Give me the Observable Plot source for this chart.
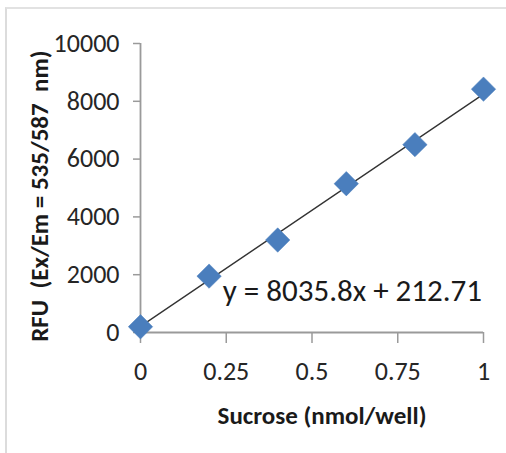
<!DOCTYPE html>
<html>
<head>
<meta charset="utf-8">
<script src="https://cdn.jsdelivr.net/npm/d3@7"></script>
<script src="https://cdn.jsdelivr.net/npm/@observablehq/plot@0.6"></script>
<style>
  html, body { margin: 0; padding: 0; background: #fff; }
  #wrap { position: relative; width: 506px; height: 453px; overflow: hidden; }
  #frame { position: absolute; left: 5px; top: 7px; width: 499px; height: 460px;
           border-left: 2px solid #dcdcdc; border-top: 2px solid #e2e2e2; border-right: 1px solid #e8e8e8; }
  svg { position: absolute; left: 0; top: 0; }
</style>
</head>
<body>
<div id="wrap"><div id="frame"></div></div>
<script>
// Data
const sucrose = [0, 0.2, 0.4, 0.6, 0.8, 1.0];
const rfu = [200, 1950, 3200, 5150, 6500, 8420];
const slope = 8035.8;
const intercept = 212.71;
const xTicks = [0, 0.25, 0.5, 0.75, 1];
const xTickLabels = ["0", "0.25", "0.5", "0.75", "1"];
const yTicks = [0, 2000, 4000, 6000, 8000, 10000];
const xTitle = "Sucrose (nmol/well)";
const yTitle = "RFU\u00a0\u00a0(Ex/Em = 535/587\u00a0\u00a0nm)";
const equation = "y = 8035.8x + 212.71";

const points = sucrose.map((x, i) => ({x, y: rfu[i]}));
const fitLine = [0, 1].map(x => ({x, y: slope * x + intercept}));

const font = "Carlito, 'Liberation Sans Narrow', 'DejaVu Sans Condensed', 'Open Sans', sans-serif";

const chart = Plot.plot({
  width: 506,
  height: 453,
  marginLeft: 140,
  marginRight: 23,
  marginTop: 43,
  marginBottom: 121,
  style: {fontFamily: font, fontSize: "26px", background: "transparent", color: "#262626"},
  x: {domain: [0, 1], ticks: xTicks},
  y: {domain: [0, 10000], ticks: yTicks},
  marks: [
    Plot.ruleX([0], {stroke: "#9a9a9a", strokeWidth: 1.8}),
    Plot.ruleY([0], {stroke: "#9a9a9a", strokeWidth: 1.8}),
    Plot.axisY({ticks: yTicks, tickSize: 7, tickPadding: 14, fontSize: 26, stroke: "#9a9a9a", strokeWidth: 1.5,
                tickFormat: d => String(d), label: null, fill: "#262626"}),
    Plot.axisX({ticks: xTicks, tickSize: 11, tickPadding: 18, fontSize: 26, stroke: "#9a9a9a", strokeWidth: 1.5,
                tickFormat: (d, i) => xTickLabels[i], label: null, fill: "#262626"}),
    Plot.line(fitLine, {x: "x", y: "y", stroke: "#333", strokeWidth: 1.3}),
    Plot.dot(points, {x: "x", y: "y", symbol: "diamond2", r: 11, fill: "#4a7ebd", stroke: "#4a7ebd", strokeWidth: 0.5}),
    Plot.text([equation], {x: 0.24, y: 1420, text: d => d, textAnchor: "start", fontSize: 31, fill: "#1a1a1a"}),
    Plot.text([xTitle], {frameAnchor: "bottom", dy: 91, dx: 10, text: d => d, fontSize: 25, fontWeight: "bold", fill: "#1a1a1a"}),
    Plot.text([yTitle], {frameAnchor: "left", textAnchor: "middle", y: 4720, dx: -101, text: d => d, rotate: -90, fontSize: 25, fontWeight: "bold", fill: "#1a1a1a"})
  ]
});
document.getElementById("wrap").appendChild(chart);
</script>
</body>
</html>
